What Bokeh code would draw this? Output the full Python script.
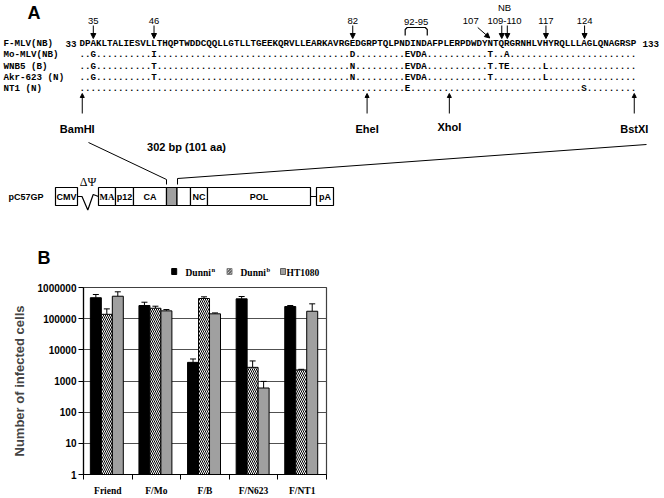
import numpy as np
from bokeh.plotting import figure
from bokeh.layouts import column
from bokeh.models import (Range1d, FixedTicker, NumeralTickFormatter, Whisker, TeeHead,
                          ColumnDataSource, Arrow, NormalHead)
from bokeh.core.properties import value
from bokeh.embed import file_html
from bokeh.resources import INLINE

# ---------------- Panel A data ----------------
ref_label = "F-MLV(NB)"
ref_first = 33
ref_last = 133
ref_seq = "DPAKLTALIESVLLTHQPTWDDCQQLLGTLLTGEEKQRVLLEARKAVRGEDGRPTQLPNDINDAFPLERPDWDYNTQRGRNHLVHYRQLLLAGLQNAGRSP"
var_labels = ["Mo-MLV(NB)", "WNB5 (B)", "Akr-623 (N)", "NT1 (N)"]
mo_changes = {35: "G", 46: "I", 82: "D", 92: "E", 93: "V", 94: "D", 95: "A", 107: "T", 110: "A"}
wnb5_changes = {35: "G", 46: "T", 82: "N", 92: "E", 93: "V", 94: "D", 95: "A", 107: "T", 109: "T", 110: "E", 117: "L"}
akr_changes = {35: "G", 46: "T", 82: "N", 92: "E", 93: "V", 94: "D", 95: "A", 107: "T", 117: "L"}
nt1_changes = {92: "E", 124: "S"}
marked_res = [35, 46, 82, 109, 110, 117, 124]
marked_labels = ["35", "46", "82", "109-110", "117", "124"]
site_names = ["BamHI", "EheI", "XhoI", "BstXI"]
site_res = [33.5, 85.1, 100.0, 133.5]
insert_text = "302 bp (101 aa)"
gene_names = ["CMV", "MA", "p12", "CA", "", "", "NC", "POL", "pA"]
gene_left = [55, 98, 115, 133, 166, 176.5, 190, 207, 316]
gene_right = [77, 115, 133, 166, 176.5, 190, 207, 310, 333]
gene_fill = ["white", "white", "white", "white", "#a0a0a0", "white", "white", "white", "white"]

# ---------------- Panel B data ----------------
cats = ["Friend", "F/Mo", "F/B", "F/N623", "F/NT1"]
dunni_n = [470000, 264000, 3960, 433000, 245000]
dunni_n_hi = [596000, 337000, 5090, 514000, 264000]
dunni_b = [138000, 216000, 443000, 2740, 2260]
dunni_b_hi = [206000, 251000, 502000, 4400, 2370]
ht1080 = [525000, 178000, 143000, 596, 173000]
ht1080_hi = [728000, 196000, 153000, 971, 299000]
y_ticks = [1, 10, 100, 1000, 10000, 100000, 1000000]
legend_names = ["Dunni", "Dunni", "HT1080"]
legend_sups = ["n", "b", ""]

# ---------------- Panel A figure (data units = page pixels) ----------------
WA, HA = 660, 280
pA = figure(width=WA, height=HA, x_range=Range1d(0, WA), y_range=Range1d(HA, 0),
            output_backend="svg", toolbar_location=None, min_border=0,
            x_axis_location=None, y_axis_location=None, frame_align=False)
pA.grid.visible = False
pA.outline_line_color = None

X0, CW = 79.0, 5.52


def cx(res):
    return X0 + (res - ref_first + 0.5) * CW


def build(changes):
    return "".join(changes.get(ref_first + i, ".") for i in range(len(ref_seq)))


rows = [ref_seq] + [build(c) for c in (mo_changes, wnb5_changes, akr_changes, nt1_changes)]
rows_y = [43, 54.25, 65.5, 76.75, 88]
mono = value("Liberation Mono")
sans = value("Liberation Sans")
serif = value("Liberation Serif")

pA.text(x=[X0] * 5, y=rows_y, text=rows, text_font=mono, text_font_size="9.2px",
        text_font_style="bold", text_baseline="middle", text_align="left")
pA.text(x=[3] * 5, y=rows_y, text=[ref_label] + var_labels, text_font=mono, text_font_size="9.2px",
        text_font_style="bold", text_baseline="middle", text_align="left")
pA.text(x=[65, X0 + (len(ref_seq) + 1) * CW], y=[43, 43],
        text=[str(ref_first), str(ref_last)], text_font=mono, text_font_size="9.2px",
        text_font_style="bold", text_baseline="middle", text_align="left")

# panel letter
pA.text(x=[27], y=[12], text=["A"], text_font=sans, text_font_size="18px", text_font_style="bold",
        text_baseline="middle", text_align="left")

# residue marks (down arrows)
ax = [cx(r) for r in marked_res]
asrc = ColumnDataSource(dict(x0=ax, y0=[25] * len(ax), x1=ax, y1=[38] * len(ax)))
pA.add_layout(Arrow(source=asrc, x_start="x0", y_start="y0", x_end="x1", y_end="y1",
                    line_width=1, end=NormalHead(size=5, fill_color="black", line_color="black")))
x107 = cx(107)
pA.add_layout(Arrow(x_start=x107 - 13, y_start=27, x_end=x107 - 1, y_end=37.5, line_width=1,
                    end=NormalHead(size=5, fill_color="black", line_color="black")))
lab_x = [cx(35), cx(46), cx(82), (cx(109) + cx(110)) / 2, cx(117), cx(124)]
pA.text(x=lab_x, y=[20] * 6, text=marked_labels, text_font=sans, text_font_size="9.5px",
        text_baseline="middle", text_align="center")
pA.text(x=[x107 - 20], y=[20], text=["107"], text_font=sans, text_font_size="9.5px",
        text_baseline="middle", text_align="center")
pA.text(x=[(cx(109) + cx(110)) / 2], y=[7], text=["NB"], text_font=sans, text_font_size="9.5px",
        text_baseline="middle", text_align="center")
bl = X0 + (92 - ref_first) * CW
br = X0 + (96 - ref_first) * CW
pA.line(x=[bl, bl, bl + 2, br - 2, br, br], y=[35, 29, 27, 27, 29, 35], line_color="black", line_width=1.2)
pA.text(x=[(bl + br) / 2], y=[21], text=["92-95"], text_font=sans, text_font_size="9.5px",
        text_baseline="middle", text_align="center")

# restriction sites (up arrows)
sx = [X0 + (r - ref_first) * CW for r in site_res]
ssrc = ColumnDataSource(dict(x0=sx, y0=[113] * 4, x1=sx, y1=[93] * 4))
pA.add_layout(Arrow(source=ssrc, x_start="x0", y_start="y0", x_end="x1", y_end="y1",
                    line_width=1, end=NormalHead(size=4, fill_color="black", line_color="black")))
pA.text(x=[sx[0] - 5, sx[1], sx[2], sx[3]], y=[128, 128, 126, 128], text=site_names, text_font=sans,
        text_font_size="11px", text_font_style="bold", text_baseline="middle", text_align="center")
pA.text(x=[186], y=[146], text=[insert_text], text_font=sans, text_font_size="11px",
        text_font_style="bold", text_baseline="middle", text_align="center")

# zoom lines
pA.line(x=[88, 166, 166], y=[142, 179, 184], line_color="black", line_width=1)
pA.line(x=[646, 177, 177], y=[144, 178, 184], line_color="black", line_width=1)

# gene map
pA.line(x=[77, 81.5, 87.3, 92.7, 98], y=[196, 196, 209.5, 194, 196], line_color="black", line_width=1.2)
pA.line(x=[310, 316], y=[196, 196], line_color="black", line_width=1.2)
pA.quad(left=gene_left, right=gene_right, top=[187] * 9, bottom=[205] * 9, fill_color=gene_fill,
        line_color="black", line_width=1.2)
gx = [(l + r) / 2 for l, r in zip(gene_left, gene_right)]
for nm, x in zip(gene_names, gx):
    if not nm:
        continue
    pA.text(x=[x], y=[196.5], text=[nm], text_font=serif if nm == "MA" else sans,
            text_font_size="9px", text_font_style="bold", text_baseline="middle", text_align="center")
pA.text(x=[8], y=[196], text=["pC57GP"], text_font=sans, text_font_size="9px",
        text_font_style="bold", text_baseline="middle", text_align="left")
pA.text(x=[87.5], y=[181], text=["\u0394\u03a8"], text_font=serif, text_font_size="12px",
        text_baseline="middle", text_align="center")

# panel B letter + legend
pA.text(x=[37], y=[257], text=["B"], text_font=sans, text_font_size="18px", text_font_style="bold",
        text_baseline="middle", text_align="left")
pA.rect(x=[173.7], y=[271], width=5, height=6, fill_color="black", line_color="black")
pA.rect(x=[229], y=[271], width=5, height=6, fill_color="white", line_color="#808080",
        hatch_pattern="left_diagonal_line", hatch_scale=3, hatch_weight=0.8, hatch_color="black")
pA.rect(x=[282.5], y=[271], width=5, height=6, fill_color="#a0a0a0", line_color="#606060")
pA.text(x=[185, 240, 286], y=[272, 272, 272], text=legend_names, text_font=serif,
        text_font_size="9.5px", text_font_style="bold", text_baseline="middle", text_align="left")
pA.text(x=[211, 266], y=[268.5, 268.5], text=legend_sups[:2], text_font=serif,
        text_font_size="6.5px", text_font_style="bold", text_baseline="middle", text_align="left")

# ---------------- Panel B figure ----------------
pB = figure(width=330, height=218, y_axis_type="log", x_range=Range1d(0.5, 5.5),
            y_range=Range1d(1, 1e6), output_backend="svg", toolbar_location=None,
            min_border_left=83, min_border_right=4, min_border_top=7, min_border_bottom=22,
            frame_align=False)
pB.outline_line_color = "#404040"
pB.outline_line_width = 1.2
pB.background_fill_color = "white"

xc = np.arange(1, len(cats) + 1)
bw = 0.226
offs = [-0.246, -0.02, 0.206]
series = [(dunni_n, dunni_n_hi, dict(fill_color="black")),
          (dunni_b, dunni_b_hi, dict(fill_color="white", hatch_pattern="left_diagonal_line",
                                     hatch_scale=4, hatch_weight=1, hatch_color="black")),
          (ht1080, ht1080_hi, dict(fill_color="#a0a0a0"))]
for (vals, his, sty), off in zip(series, offs):
    src = ColumnDataSource(dict(x=xc + off, top=vals, hi=his))
    pB.vbar(x="x", top="top", bottom=1, width=bw, source=src, line_color="black", line_width=1, **sty)
    pB.add_layout(Whisker(source=src, base="x", lower="top", upper="hi", dimension="height",
                          line_color="black", line_width=1,
                          upper_head=TeeHead(size=6, line_color="black", line_width=1), lower_head=None))

yt = FixedTicker(ticks=y_ticks)
pB.yaxis.ticker = yt
pB.ygrid.ticker = yt
pB.yaxis.formatter = NumeralTickFormatter(format="0")
pB.ygrid.grid_line_color = "#505050"
pB.ygrid.grid_line_width = 1.2
pB.xgrid.visible = False
pB.yaxis.major_label_text_font = "Liberation Sans"
pB.yaxis.major_label_text_font_style = "bold"
pB.yaxis.major_label_text_font_size = "10px"
pB.yaxis.major_tick_out = 5
pB.yaxis.major_tick_in = 0
pB.yaxis.minor_tick_line_color = None
pB.yaxis.major_label_standoff = 2
pB.yaxis.axis_label = "Number of infected cells"
pB.yaxis.axis_label_text_font = "Liberation Sans"
pB.yaxis.axis_label_text_font_style = "bold"
pB.yaxis.axis_label_text_font_size = "13px"
pB.yaxis.axis_label_standoff = 8
pB.axis.axis_line_color = "black"
pB.axis.axis_line_width = 1.2
pB.axis.major_label_text_color = "black"

pB.xaxis.ticker = FixedTicker(ticks=list(xc), minor_ticks=[0.5 + i for i in range(len(cats) + 1)])
pB.xaxis.major_label_overrides = {int(i): c for i, c in zip(xc, cats)}
pB.xaxis.major_tick_out = 0
pB.xaxis.major_tick_in = 0
pB.xaxis.major_tick_line_color = None
pB.xaxis.minor_tick_out = 5
pB.xaxis.minor_tick_in = 0
pB.xaxis.minor_tick_line_color = "black"
pB.xaxis.major_label_text_font = "Liberation Serif"
pB.xaxis.major_label_text_font_style = "bold"
pB.xaxis.major_label_text_font_size = "9.5px"
pB.xaxis.major_label_standoff = 6

layout = column(pA, pB, spacing=0)
open("out.html", "w").write(file_html(layout, INLINE, title="figure"))
